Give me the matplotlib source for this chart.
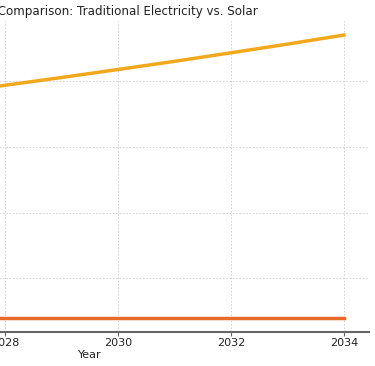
import matplotlib
matplotlib.use("Agg")
import matplotlib.pyplot as plt

years = [2025, 2026, 2027, 2028, 2029, 2030, 2031, 2032, 2033, 2034]
traditional = [1800, 1854, 1910, 1967, 2026, 2087, 2149, 2214, 2280, 2349]
solar = [200, 200, 200, 200, 200, 200, 200, 200, 200, 200]

fig = plt.figure(figsize=(3.75, 3.66), dpi=100)
# the chart is a cropped view: the axes run past the left edge
ax = fig.add_axes([-0.507, 0.0929, 1.492, 0.85])

ax.plot(years, traditional, color="#F2A81D", linewidth=2.5, label="Traditional Electricity")
ax.plot(years, solar, color="#E8692A", linewidth=2.5, label="Solar")

ax.set_xticks([2026, 2028, 2030, 2032, 2034])
ax.set_yticks([500, 1000, 1500, 2000])
ax.tick_params(axis="x", labelsize=8, labelcolor="#222222", color="#666666",
               length=3, width=0.8, pad=1.5)
ax.grid(True, color="#cccccc", linestyle=(0, (2, 2)), linewidth=0.6)
ax.set_axisbelow(True)

for s in ["top", "right", "left"]:
    ax.spines[s].set_visible(False)
ax.spines["bottom"].set_color("#666666")
ax.spines["bottom"].set_linewidth(1.5)

ax.set_xlabel("Year", fontsize=8, color="#222222", labelpad=1.5)
ax.set_title("Annual Cost Comparison: Traditional Electricity vs. Solar",
             fontsize=8.6, color="#222222", pad=4)

plt.savefig("out.png", dpi=100)
